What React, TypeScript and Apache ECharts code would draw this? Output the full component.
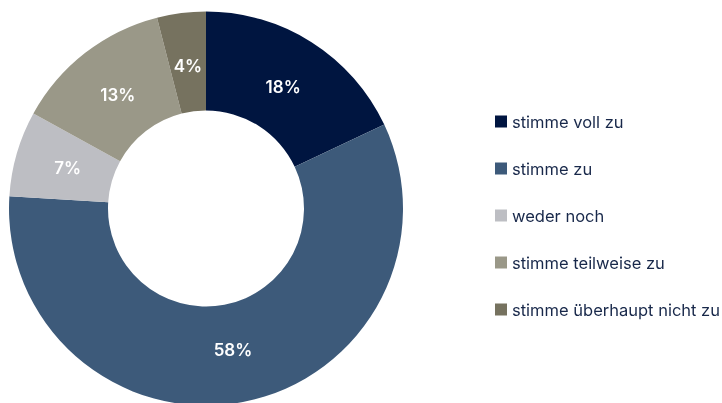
import React, { useEffect, useRef } from "react";
import * as echarts from "echarts";

const categories = [
  "stimme voll zu",
  "stimme zu",
  "weder noch",
  "stimme teilweise zu",
  "stimme überhaupt nicht zu",
];
const values = [18, 58, 7, 13, 4];
const colors = ["#001540", "#3d5a7a", "#bdbec3", "#9a9888", "#76725f"];

export default function App() {
  const ref = useRef<HTMLDivElement>(null);
  useEffect(() => {
    if (!ref.current) return;
    const chart = echarts.init(ref.current, undefined, { renderer: "svg" });
    const data = categories.map((name, i) => ({ name, value: values[i] }));
    chart.setOption({
      animation: false,
      color: colors,
      legend: {
        orient: "vertical",
        left: 490,
        top: 108,
        itemWidth: 12,
        itemHeight: 12,
        itemGap: 30,
        icon: "rect",
        selectedMode: false,
        textStyle: {
          color: "#18284a",
          fontSize: 16.5,
          fontFamily: "Inter",
        },
        data: categories,
      },
      series: [
        {
          type: "pie",
          center: [206, 208.5],
          radius: [98, 197],
          startAngle: 90,
          clockwise: true,
          silent: true,
          label: { show: false },
          labelLine: { show: false },
          itemStyle: { borderWidth: 0 },
          data,
        },
        {
          type: "pie",
          center: [206, 208.5],
          radius: [86, 196],
          startAngle: 90,
          clockwise: true,
          silent: true,
          label: {
            position: "inside",
            formatter: "{c}%",
            color: "#ffffff",
            fontSize: 17,
            fontWeight: 600,
            fontFamily: "Inter",
          },
          labelLine: { show: false },
          itemStyle: { color: "transparent", borderWidth: 0 },
          data,
        },
      ],
    });
    return () => chart.dispose();
  }, []);
  return (
    <div
      ref={ref}
      style={{ position: "fixed", left: 0, top: 0, width: 722, height: 403 }}
    />
  );
}
